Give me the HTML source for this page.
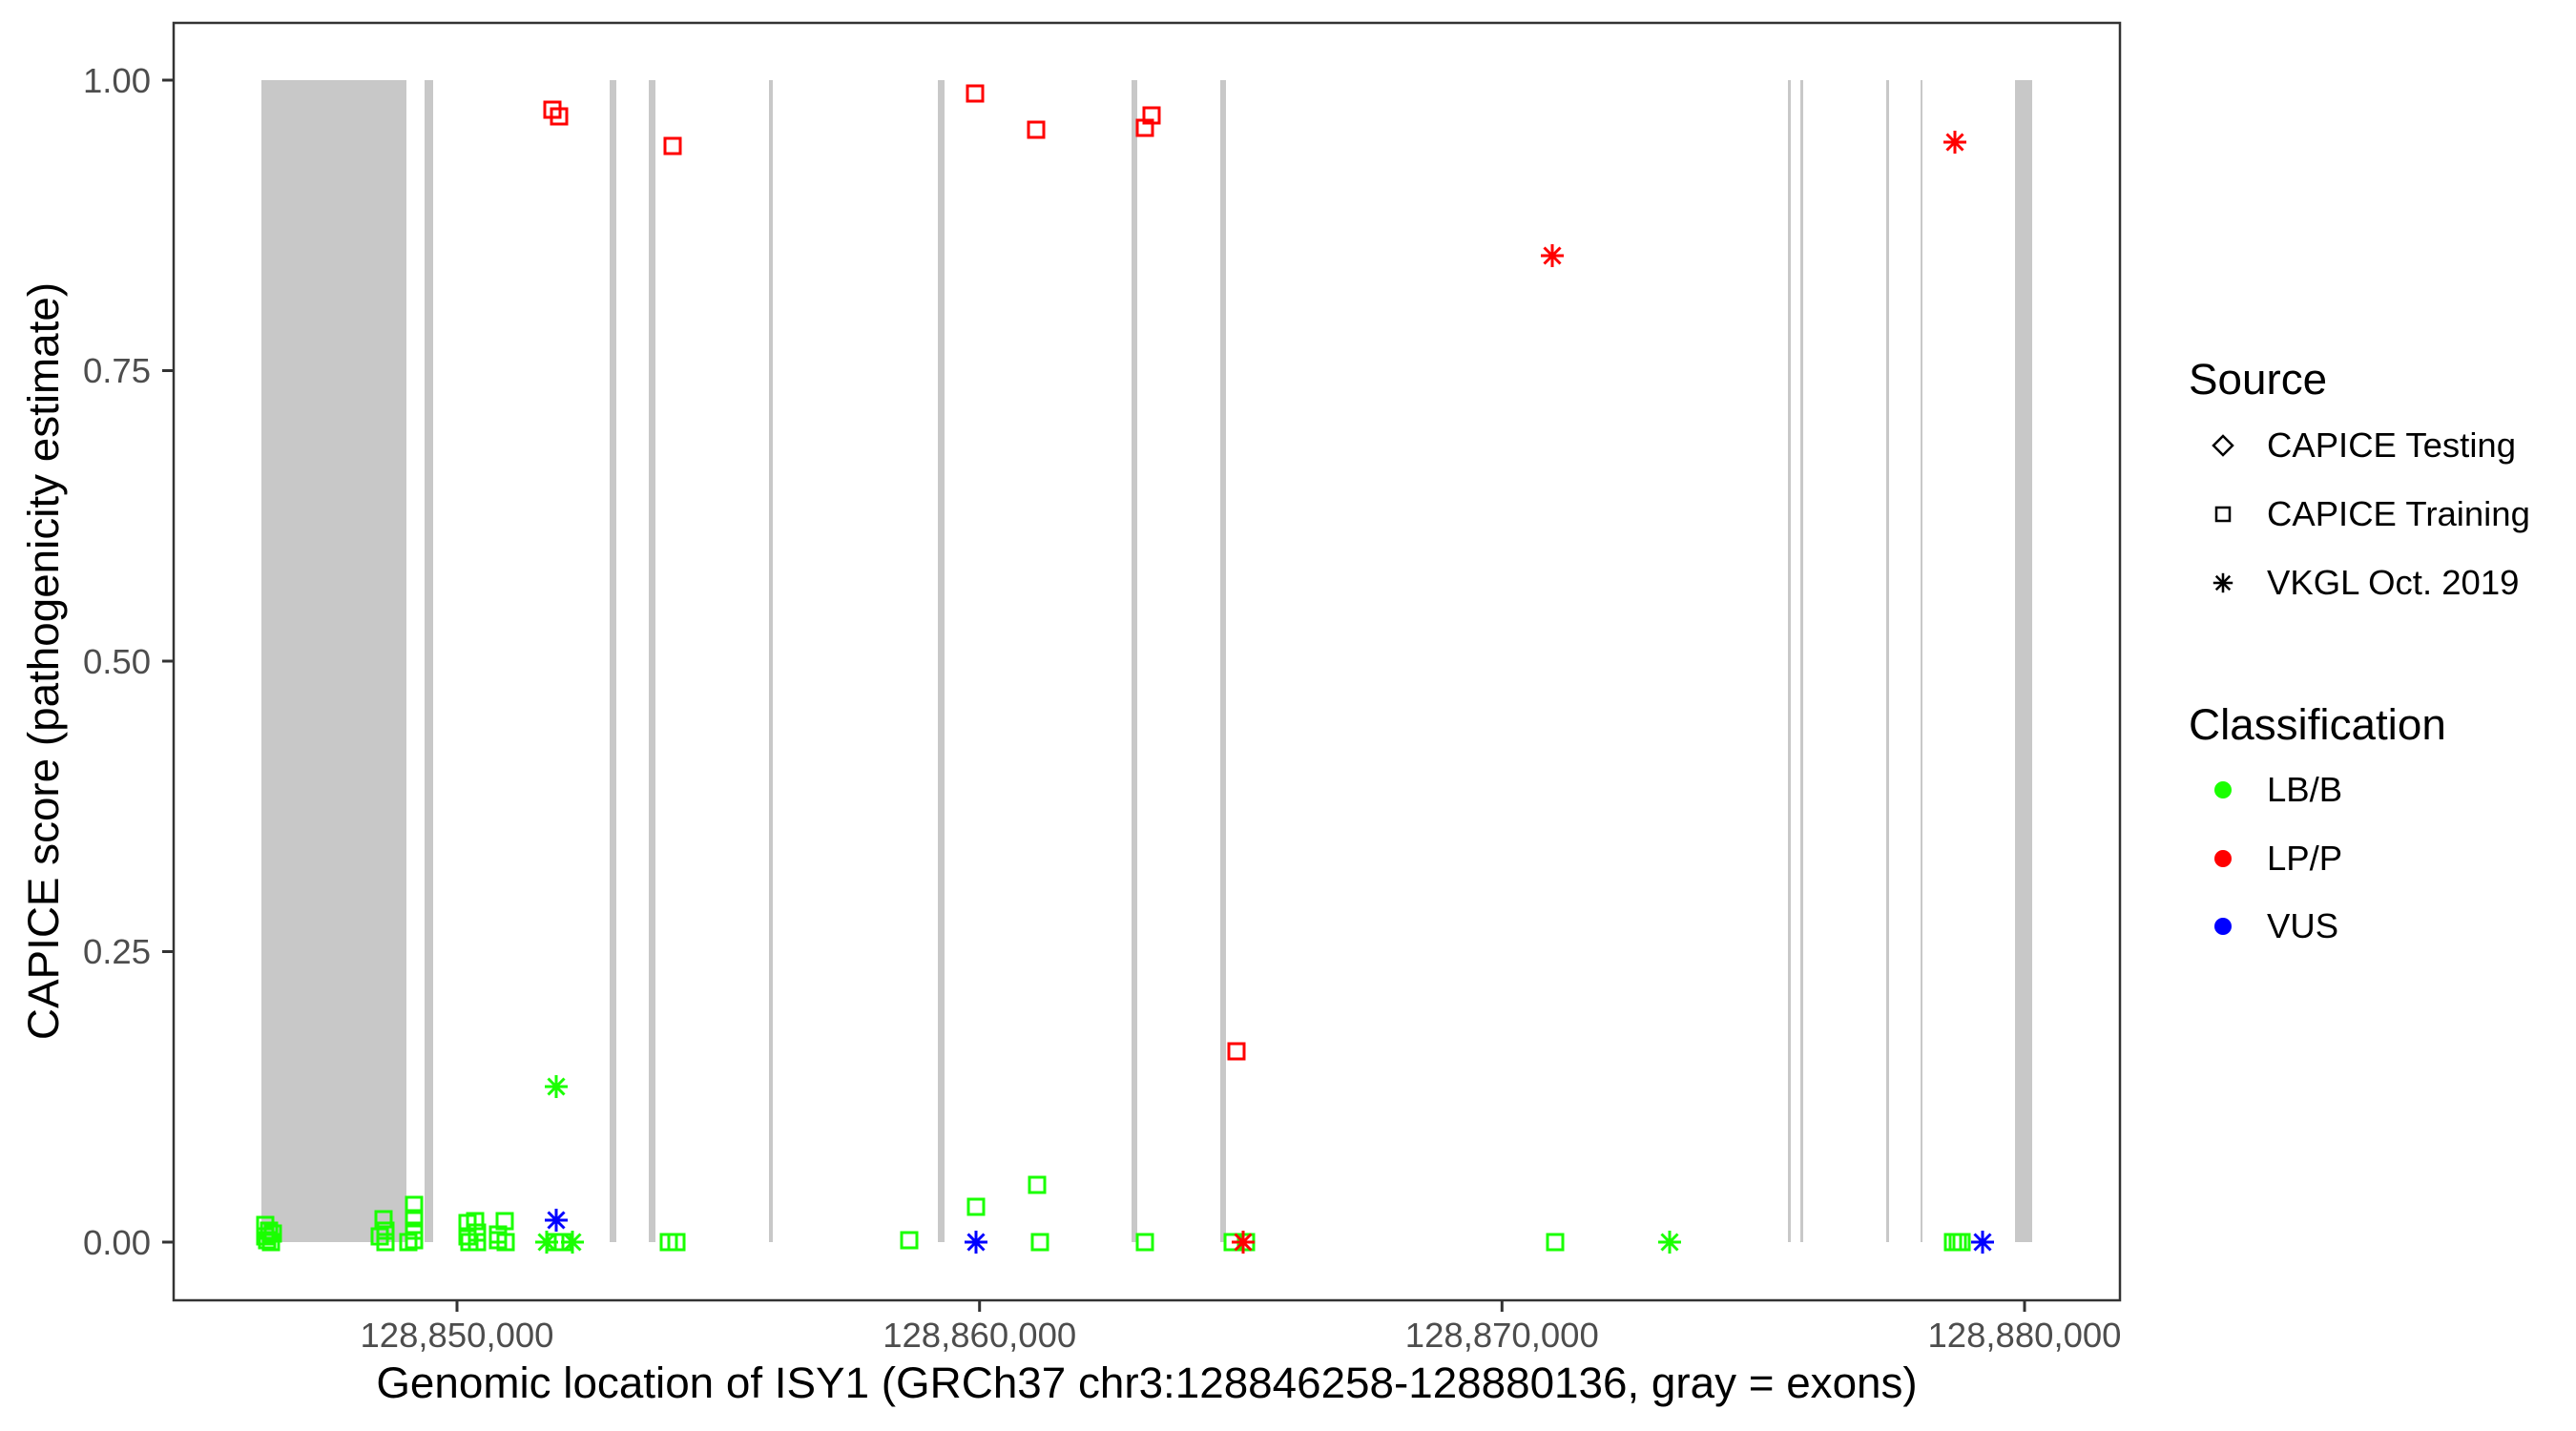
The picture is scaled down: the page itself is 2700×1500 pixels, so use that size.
<!DOCTYPE html>
<html><head><meta charset="utf-8"><style>body{margin:0;background:#fff}svg{display:block}</style></head>
<body>
<svg width="2700" height="1500" xmlns="http://www.w3.org/2000/svg" font-family="Liberation Sans, Arial, sans-serif">
<defs>
<g id="sq"><rect x="-8" y="-8" width="16" height="16" fill="none" stroke-width="3"/></g>
<g id="st" stroke-width="3"><line x1="-12" y1="0" x2="12" y2="0"/><line x1="0" y1="-12" x2="0" y2="12"/><line x1="-8.5" y1="-8.5" x2="8.5" y2="8.5"/><line x1="-8.5" y1="8.5" x2="8.5" y2="-8.5"/></g>
</defs>
<rect width="2700" height="1500" fill="#fff"/>
<g fill="#c8c8c8">
<rect x="274" y="84" width="152" height="1218"/>
<rect x="445" y="84" width="9" height="1218"/>
<rect x="639" y="84" width="7" height="1218"/>
<rect x="680" y="84" width="7" height="1218"/>
<rect x="806" y="84" width="4" height="1218"/>
<rect x="983" y="84" width="7" height="1218"/>
<rect x="1186" y="84" width="6" height="1218"/>
<rect x="1279" y="84" width="6" height="1218"/>
<rect x="1874" y="84" width="3" height="1218"/>
<rect x="1887" y="84" width="3" height="1218"/>
<rect x="1977" y="84" width="3" height="1218"/>
<rect x="2013" y="84" width="2" height="1218"/>
<rect x="2112" y="84" width="18" height="1218"/>
</g>
<g stroke="#1aff00" stroke-width="3" fill="none">
<use href="#sq" x="278" y="1284"/><use href="#sq" x="282" y="1290"/><use href="#sq" x="278" y="1296"/><use href="#sq" x="284" y="1302"/><use href="#sq" x="280" y="1300"/><use href="#sq" x="286" y="1293"/>
<use href="#sq" x="402" y="1278"/><use href="#sq" x="404" y="1290"/><use href="#sq" x="404" y="1302"/><use href="#sq" x="398" y="1296"/>
<use href="#sq" x="434" y="1263"/><use href="#sq" x="434" y="1277"/><use href="#sq" x="434" y="1290"/><use href="#sq" x="434" y="1300"/><use href="#sq" x="428" y="1302"/>
<use href="#sq" x="490" y="1282"/><use href="#sq" x="498" y="1280"/><use href="#sq" x="490" y="1296"/><use href="#sq" x="500" y="1302"/><use href="#sq" x="492" y="1302"/><use href="#sq" x="500" y="1292"/>
<use href="#sq" x="529" y="1280"/><use href="#sq" x="522" y="1300"/><use href="#sq" x="530" y="1302"/><use href="#sq" x="522" y="1294"/>
<use href="#sq" x="582" y="1302"/><use href="#sq" x="590" y="1302"/>
<use href="#sq" x="701" y="1302"/><use href="#sq" x="709" y="1302"/>
<use href="#sq" x="953" y="1300"/><use href="#sq" x="1023" y="1265"/><use href="#sq" x="1087" y="1242"/><use href="#sq" x="1090" y="1302"/><use href="#sq" x="1200" y="1302"/>
<use href="#sq" x="1292" y="1302"/><use href="#sq" x="1306" y="1302"/>
<use href="#sq" x="1630" y="1302"/>
<use href="#sq" x="2047" y="1302"/><use href="#sq" x="2056" y="1302"/><use href="#sq" x="2052" y="1302"/>
</g>
<g stroke="#1aff00"><use href="#st" x="583" y="1139"/><use href="#st" x="573" y="1302"/><use href="#st" x="600" y="1302"/><use href="#st" x="1750" y="1302"/></g>
<g stroke="#ff0000" fill="none">
<use href="#sq" x="579" y="115"/><use href="#sq" x="586" y="122"/><use href="#sq" x="705" y="153"/><use href="#sq" x="1022" y="98"/><use href="#sq" x="1086" y="136"/><use href="#sq" x="1200" y="134"/><use href="#sq" x="1207" y="121"/><use href="#sq" x="1296" y="1102"/>
</g>
<g stroke="#ff0000"><use href="#st" x="1627" y="268"/><use href="#st" x="2049" y="149"/><use href="#st" x="1303" y="1302"/></g>
<g stroke="#0000ff"><use href="#st" x="583" y="1279"/><use href="#st" x="1023" y="1302"/><use href="#st" x="2078" y="1302"/></g>
<rect x="182" y="24" width="2040" height="1339" fill="none" stroke="#333" stroke-width="2.5"/>
<g stroke="#333" stroke-width="3">
<line x1="170" y1="84" x2="182" y2="84"/><line x1="170" y1="388.5" x2="182" y2="388.5"/><line x1="170" y1="693" x2="182" y2="693"/><line x1="170" y1="997.5" x2="182" y2="997.5"/><line x1="170" y1="1302" x2="182" y2="1302"/>
<line x1="479" y1="1363" x2="479" y2="1375"/><line x1="1026.7" y1="1363" x2="1026.7" y2="1375"/><line x1="1574.3" y1="1363" x2="1574.3" y2="1375"/><line x1="2122" y1="1363" x2="2122" y2="1375"/>
</g>
<g fill="#4d4d4d" font-size="36.5" text-anchor="end">
<text x="158" y="97">1.00</text><text x="158" y="401">0.75</text><text x="158" y="706">0.50</text><text x="158" y="1010">0.25</text><text x="158" y="1315">0.00</text>
</g>
<g fill="#4d4d4d" font-size="36.5" text-anchor="middle">
<text x="479" y="1412">128,850,000</text><text x="1026.7" y="1412">128,860,000</text><text x="1574.3" y="1412">128,870,000</text><text x="2122" y="1412">128,880,000</text>
</g>
<text x="1202" y="1465" font-size="45.8" text-anchor="middle" fill="#000">Genomic location of ISY1 (GRCh37 chr3:128846258-128880136, gray = exons)</text>
<text transform="translate(61,693) rotate(-90)" font-size="45.8" text-anchor="middle" fill="#000">CAPICE score (pathogenicity estimate)</text>
<text x="2294" y="413" font-size="45.8" fill="#000">Source</text>
<g font-size="36.5" fill="#000">
<text x="2376" y="479">CAPICE Testing</text><text x="2376" y="551">CAPICE Training</text><text x="2376" y="623">VKGL Oct. 2019</text>
</g>
<polygon points="2330,457 2340,467 2330,477 2320,467" fill="none" stroke="#000" stroke-width="2.5"/>
<rect x="2323" y="532" width="14" height="14" fill="none" stroke="#000" stroke-width="2.5"/>
<g stroke="#000"><use href="#st" x="2330" y="611" transform="translate(2330,611) scale(0.85) translate(-2330,-611)"/></g>
<text x="2294" y="775" font-size="45.8" fill="#000">Classification</text>
<g font-size="36.5" fill="#000">
<text x="2376" y="840">LB/B</text><text x="2376" y="912">LP/P</text><text x="2376" y="983">VUS</text>
</g>
<circle cx="2330" cy="828" r="9" fill="#1aff00"/><circle cx="2330" cy="900" r="9" fill="#ff0000"/><circle cx="2330" cy="971" r="9" fill="#0000ff"/>
</svg>
</body></html>
